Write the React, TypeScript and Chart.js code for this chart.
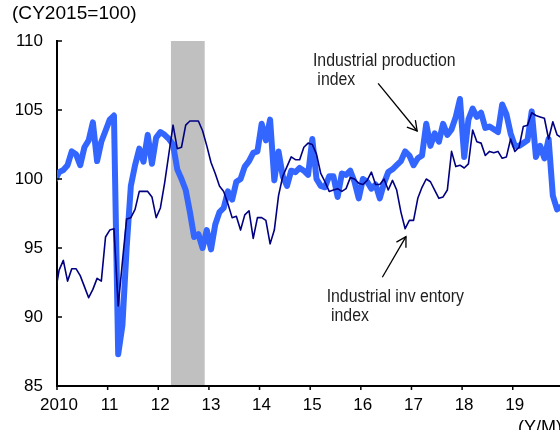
import React, { useEffect, useRef } from "react";
import { Chart, registerables } from "chart.js";

Chart.register(...registerables);

// Monthly data, Dec 2009 .. Dec 2019 (CY2015 = 100)
const firstMonth = { year: 2009, month: 12 };

const production = [
  99.9,
  100.5, 100.65, 101.0, 102.0, 101.8, 101.0, 102.3, 102.8, 104.1, 101.3, 102.7, 103.5,
  104.3, 104.6, 87.3, 89.4, 95.0, 99.5, 101.0, 102.2, 101.25, 103.2, 101.1, 103.0,
  103.4, 103.2, 102.9, 102.5, 100.7, 100.0, 99.2, 97.6, 95.8, 96.0, 95.0, 96.3,
  94.9, 96.7, 97.6, 97.9, 99.1, 98.5, 99.8, 100.0, 100.9, 101.3, 101.9, 102.0,
  104.0, 102.8, 104.3, 99.9, 102.0, 100.2, 99.5, 100.6, 100.5, 100.8, 100.6, 100.3,
  102.9, 100.0, 99.5, 99.4, 100.2, 100.2, 98.7, 100.4, 100.3, 100.6, 99.8, 98.6,
  100.0, 99.8, 99.3, 99.6, 98.6, 99.7, 100.5, 100.7, 101.0, 101.3, 102.0, 101.7,
  101.0, 101.5, 101.7, 104.0, 102.4, 103.3, 102.7, 104.0, 103.2, 103.6, 104.5, 105.8,
  101.6, 104.3, 105.1, 104.5, 104.8, 103.7, 103.8, 103.6, 103.4, 105.4, 104.7, 103.3,
  102.4, 102.4, 102.6, 102.8, 104.9, 101.6, 102.4, 101.5, 102.9, 98.8, 97.8, 98.0,
];

const inventory = [
  91.6,
  93.4, 94.1, 92.6, 93.5, 93.5, 93.0, 92.2, 91.4, 92.0, 92.8, 92.6, 95.8,
  96.3, 96.4, 90.8, 94.0, 97.1, 97.2, 97.8, 99.1, 99.1, 99.1, 98.7, 97.2,
  97.9, 99.7, 101.8, 103.9, 102.2, 102.3, 103.9, 104.2, 104.2, 104.2, 103.5, 102.4,
  101.2, 100.4, 99.5, 99.1, 98.2, 97.2, 97.3, 96.3, 97.4, 97.7, 95.7, 97.2,
  97.2, 97.0, 95.3, 96.3, 98.8, 100.2, 100.9, 101.6, 101.4, 101.4, 102.3, 102.6,
  102.5, 101.8, 100.4, 99.8, 99.1, 99.2, 99.3, 99.1, 99.3, 100.1, 100.0, 99.7,
  99.6, 99.9, 100.5, 99.6, 99.6, 100.0, 99.2, 99.9, 99.2, 97.6, 96.4, 97.0,
  97.0, 98.6, 99.4, 100.0, 99.8, 99.2, 98.6, 98.7, 99.2, 102.0, 100.9, 101.0,
  100.8, 101.1, 103.55, 102.7, 102.6, 101.7, 102.0, 101.9, 102.0, 101.5, 101.6, 102.9,
  102.0, 102.3, 103.8, 103.9, 104.8, 104.6, 104.5, 104.4, 102.9, 104.15, 103.2, 103.0,
];

const yearLabels = ["2010", "11", "12", "13", "14", "15", "16", "17", "18", "19"];
const yTickValues = [85, 90, 95, 100, 105, 110];

// Recession shading (months, inclusive)
const recessionStart = { year: 2012, month: 4 };
const recessionEnd = { year: 2012, month: 11 };

const unitLabel = "(CY2015=100)";
const xUnitLabel = "(Y/M)";

// Annotations in data coordinates (months since Jan 2010, index value)
const annotations = [
  {
    lines: ["Industrial production", " index"],
    text: { m: 60.66, v: 108.21 },
    from: { m: 76.1, v: 106.93 },
    to: { m: 85.35, v: 103.48 },
  },
  {
    lines: ["Industrial inv entory", " index"],
    text: { m: 63.9, v: 91.07 },
    from: { m: 77.1, v: 92.88 },
    to: { m: 82.7, v: 95.82 },
  },
];

const FONT = "'Liberation Sans', Arial, Helvetica, sans-serif";

const monthsSince2010 = (d: { year: number; month: number }) =>
  (d.year - 2010) * 12 + (d.month - 1);

const toPoints = (arr: number[]) => {
  const base = monthsSince2010(firstMonth);
  return arr.map((v, k) => ({ x: base + k + 0.5, y: v }));
};

function drawArrow(ctx: CanvasRenderingContext2D, x1: number, y1: number, x2: number, y2: number) {
  ctx.beginPath();
  ctx.moveTo(x1, y1);
  ctx.lineTo(x2, y2);
  ctx.stroke();
  const a = Math.atan2(y2 - y1, x2 - x1);
  const len = 11;
  const spread = Math.PI / 6;
  ctx.beginPath();
  ctx.moveTo(x2 - len * Math.cos(a - spread), y2 - len * Math.sin(a - spread));
  ctx.lineTo(x2, y2);
  ctx.lineTo(x2 - len * Math.cos(a + spread), y2 - len * Math.sin(a + spread));
  ctx.stroke();
}

function drawText(
  ctx: CanvasRenderingContext2D,
  text: string,
  x: number,
  y: number,
  size: number,
  scaleX: number,
  color: string
) {
  ctx.save();
  ctx.translate(x, y);
  ctx.scale(scaleX, 1);
  ctx.font = `${size}px ${FONT}`;
  ctx.fillStyle = color;
  ctx.textBaseline = "alphabetic";
  ctx.textAlign = "left";
  ctx.fillText(text, 0, 0);
  ctx.restore();
}

const overlayPlugin = {
  id: "overlay",
  beforeDraw(chart: any) {
    const { ctx, chartArea, scales } = chart;
    const xs = scales.x;
    const x0 = xs.getPixelForValue(monthsSince2010(recessionStart));
    const x1 = xs.getPixelForValue(monthsSince2010(recessionEnd) + 1);
    ctx.save();
    ctx.fillStyle = "#C0C0C0";
    ctx.fillRect(x0, chartArea.top, x1 - x0, chartArea.bottom - chartArea.top);
    ctx.restore();
  },
  afterDraw(chart: any) {
    const { ctx, chartArea, scales } = chart;
    const xs = scales.x;
    const ys = scales.y;
    ctx.save();
    // tick marks
    ctx.strokeStyle = "#000";
    ctx.lineWidth = 1.5;
    ys.ticks.forEach((t: any) => {
      const py = ys.getPixelForValue(t.value);
      ctx.beginPath();
      ctx.moveTo(chartArea.left, py);
      ctx.lineTo(chartArea.left + 5, py);
      ctx.stroke();
    });
    xs.ticks.forEach((t: any) => {
      const px = xs.getPixelForValue(t.value);
      ctx.beginPath();
      ctx.moveTo(px, chartArea.bottom);
      ctx.lineTo(px, chartArea.bottom + 4);
      ctx.stroke();
    });
    // unit labels
    drawText(ctx, unitLabel, 12, 19, 18, 1.06, "#000");
    drawText(ctx, xUnitLabel, 518, 433, 18, 1.0, "#000");
    // annotations
    ctx.lineWidth = 1.3;
    ctx.strokeStyle = "#000";
    annotations.forEach((a) => {
      const tx = xs.getPixelForValue(a.text.m);
      const ty = ys.getPixelForValue(a.text.v);
      a.lines.forEach((line, i) => {
        drawText(ctx, line, tx, ty + i * 19, 18, 0.88, "#1e1e1e");
      });
      drawArrow(
        ctx,
        xs.getPixelForValue(a.from.m),
        ys.getPixelForValue(a.from.v),
        xs.getPixelForValue(a.to.m),
        ys.getPixelForValue(a.to.v)
      );
    });
    ctx.restore();
  },
};

export default function App() {
  const ref = useRef<HTMLCanvasElement>(null);
  useEffect(() => {
    const canvas = ref.current;
    if (!canvas) return;
    const chart = new Chart(canvas, {
      type: "line",
      data: {
        datasets: [
          {
            label: "Industrial inventory index",
            data: toPoints(inventory),
            borderColor: "#000080",
            borderWidth: 1.6,
            pointRadius: 0,
            tension: 0,
            fill: false,
            borderJoinStyle: "round",
            clip: 0,
            order: 0,
          },
          {
            label: "Industrial production index",
            data: toPoints(production),
            borderColor: "#3366FF",
            borderWidth: 6,
            pointRadius: 0,
            tension: 0,
            fill: false,
            borderJoinStyle: "round",
            clip: 0,
            order: 1,
          },
        ],
      } as any,
      options: {
        responsive: false,
        animation: false,
        events: [],
        layout: { padding: { top: 41, right: 0, bottom: 0, left: 0 } },
        plugins: { legend: { display: false }, tooltip: { enabled: false } },
        scales: {
          x: {
            type: "linear",
            min: 0,
            max: 119.2,
            afterFit: (s: any) => {
              s.height = 44;
            },
            afterBuildTicks: (s: any) => {
              s.ticks = yearLabels.map((_, k) => ({ value: k * 12 }));
            },
            grid: { display: false, drawTicks: false },
            border: { display: true, color: "#000", width: 2 },
            ticks: {
              autoSkip: false,
              maxRotation: 0,
              padding: 9,
              labelOffset: 2,
              color: "#000",
              font: { family: FONT, size: 17 },
              callback: (_v: any, i: number) => yearLabels[i],
            },
          },
          y: {
            type: "linear",
            min: 85,
            max: 110,
            afterFit: (s: any) => {
              s.width = 57;
            },
            afterBuildTicks: (s: any) => {
              s.ticks = yTickValues.map((v) => ({ value: v }));
            },
            grid: { display: false, drawTicks: false },
            border: { display: true, color: "#000", width: 2 },
            ticks: {
              padding: 14,
              color: "#000",
              font: { family: FONT, size: 17 },
              callback: (v: any) => String(v),
            },
          },
        },
      } as any,
      plugins: [overlayPlugin],
    });
    return () => chart.destroy();
  }, []);
  return (
    <div style={{ position: "fixed", left: 0, top: 0, width: 560, height: 430, background: "#fff" }}>
      <canvas ref={ref} width={560} height={430} style={{ display: "block" }} />
    </div>
  );
}
